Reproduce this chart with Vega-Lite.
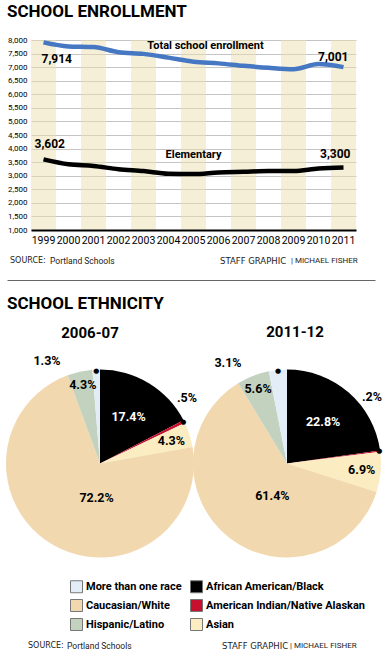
{
  "$schema": "https://vega.github.io/schema/vega-lite/v6.json",
  "padding": {"left": 0, "top": 3, "right": 0, "bottom": 0},
  "background": "white",
  "bounds": "flush",
  "spacing": 0,
  "config": {
    "view": {"stroke": null},
    "font": "Roboto, sans-serif",
    "title": {"color": "#000", "fontWeight": "bold", "font": "Roboto, sans-serif"},
    "axis": {"labelColor": "#000", "titleColor": "#000", "labelFont": "Roboto, sans-serif"},
    "legend": {"labelFont": "Roboto, sans-serif"}
  },
  "datasets": {
    "enroll": [
      {"series": "Total school enrollment", "year": "1999", "value": 7914},
      {"series": "Total school enrollment", "year": "2000", "value": 7764},
      {"series": "Total school enrollment", "year": "2001", "value": 7739},
      {"series": "Total school enrollment", "year": "2002", "value": 7551},
      {"series": "Total school enrollment", "year": "2003", "value": 7489},
      {"series": "Total school enrollment", "year": "2004", "value": 7351},
      {"series": "Total school enrollment", "year": "2005", "value": 7201},
      {"series": "Total school enrollment", "year": "2006", "value": 7139},
      {"series": "Total school enrollment", "year": "2007", "value": 7051},
      {"series": "Total school enrollment", "year": "2008", "value": 6976},
      {"series": "Total school enrollment", "year": "2009", "value": 6926},
      {"series": "Total school enrollment", "year": "2010", "value": 7114},
      {"series": "Total school enrollment", "year": "2011", "value": 7001},
      {"series": "Elementary", "year": "1999", "value": 3602},
      {"series": "Elementary", "year": "2000", "value": 3422},
      {"series": "Elementary", "year": "2001", "value": 3360},
      {"series": "Elementary", "year": "2002", "value": 3240},
      {"series": "Elementary", "year": "2003", "value": 3170},
      {"series": "Elementary", "year": "2004", "value": 3072},
      {"series": "Elementary", "year": "2005", "value": 3060},
      {"series": "Elementary", "year": "2006", "value": 3120},
      {"series": "Elementary", "year": "2007", "value": 3145},
      {"series": "Elementary", "year": "2008", "value": 3170},
      {"series": "Elementary", "year": "2009", "value": 3170},
      {"series": "Elementary", "year": "2010", "value": 3265},
      {"series": "Elementary", "year": "2011", "value": 3300}
    ],
    "bands": [
      {"year": "1999"}, {"year": "2001"}, {"year": "2003"}, {"year": "2005"},
      {"year": "2007"}, {"year": "2009"}, {"year": "2011"}
    ],
    "eth": [
      {"period": "2006-07", "group": "African American/Black", "pct": 17.4, "label": "17.4%"},
      {"period": "2006-07", "group": "American Indian/Native Alaskan", "pct": 0.5, "label": ".5%"},
      {"period": "2006-07", "group": "Asian", "pct": 4.3, "label": "4.3%"},
      {"period": "2006-07", "group": "Caucasian/White", "pct": 72.2, "label": "72.2%"},
      {"period": "2006-07", "group": "Hispanic/Latino", "pct": 4.3, "label": "4.3%"},
      {"period": "2006-07", "group": "More than one race", "pct": 1.3, "label": "1.3%"},
      {"period": "2011-12", "group": "African American/Black", "pct": 22.8, "label": "22.8%"},
      {"period": "2011-12", "group": "American Indian/Native Alaskan", "pct": 0.2, "label": ".2%"},
      {"period": "2011-12", "group": "Asian", "pct": 6.9, "label": "6.9%"},
      {"period": "2011-12", "group": "Caucasian/White", "pct": 61.4, "label": "61.4%"},
      {"period": "2011-12", "group": "Hispanic/Latino", "pct": 5.6, "label": "5.6%"},
      {"period": "2011-12", "group": "More than one race", "pct": 3.1, "label": "3.1%"}
    ],
    "foot": [
      {"side": "left", "part": "a", "label": "SOURCE:"},
      {"side": "left", "part": "b", "label": "Portland Schools"},
      {"side": "left", "part": "c", "label": "STAFF GRAPHIC"},
      {"side": "left", "part": "d", "label": "| MICHAEL FISHER"}
    ]
  },
  "vconcat": [
    {
      "width": 390,
      "height": 190,
      "title": {"text": "SCHOOL ENROLLMENT", "anchor": "start", "frame": "group", "dx": 7, "fontSize": 17, "offset": 12},
      "encoding": {
        "x": {
          "field": "year", "type": "ordinal",
          "scale": {"domain": ["1999","2000","2001","2002","2003","2004","2005","2006","2007","2008","2009","2010","2011"], "range": [31, 356], "paddingInner": 0, "paddingOuter": 0},
          "axis": {"title": null, "labelAngle": 0, "labelFontSize": 10.5, "labelPadding": 5, "ticks": false, "domainColor": "#000", "domainWidth": 2, "grid": false, "labelOverlap": false}
        }
      },
      "layer": [
        {"data": {"name": "bands"}, "mark": {"type": "rect", "color": "#ecdfb0", "opacity": 0.5}},
        {
          "data": {"name": "enroll"},
          "transform": [{"filter": "datum.series === 'Total school enrollment'"}],
          "mark": {"type": "line", "color": "#4677c2", "strokeWidth": 4.5, "interpolate": "monotone"},
          "encoding": {
            "y": {
              "field": "value", "type": "quantitative",
              "scale": {"domain": [1000, 8000], "nice": false, "zero": false},
              "axis": {"title": null, "offset": -31, "values": [1000,1500,2000,2500,3000,3500,4000,4500,5000,5500,6000,6500,7000,7500,8000], "tickCount": 20, "format": ",.0f", "grid": true, "gridColor": "#c4c4c4", "domain": false, "ticks": false, "labelFontSize": 8, "labelPadding": 4, "labelOverlap": false}
            }
          }
        },
        {
          "data": {"name": "enroll"},
          "transform": [{"filter": "datum.series === 'Elementary'"}],
          "mark": {"type": "line", "color": "#000", "strokeWidth": 4.5, "interpolate": "monotone"},
          "encoding": {"y": {"field": "value", "type": "quantitative"}}
        },
        {
          "data": {"name": "enroll"},
          "transform": [{"filter": "datum.series === 'Total school enrollment' && datum.year === '1999'"}],
          "mark": {"type": "text", "align": "left", "dx": -2, "dy": 17, "fontSize": 12, "fontWeight": "bold"},
          "encoding": {"y": {"field": "value", "type": "quantitative"}, "text": {"field": "value", "type": "quantitative", "format": ","}}
        },
        {
          "data": {"name": "enroll"},
          "transform": [{"filter": "datum.series === 'Total school enrollment' && datum.year === '2011'"}],
          "mark": {"type": "text", "align": "right", "dx": 5, "dy": -10, "fontSize": 12, "fontWeight": "bold"},
          "encoding": {"y": {"field": "value", "type": "quantitative"}, "text": {"field": "value", "type": "quantitative", "format": ","}}
        },
        {
          "data": {"name": "enroll"},
          "transform": [{"filter": "datum.series === 'Elementary' && datum.year === '1999'"}],
          "mark": {"type": "text", "align": "left", "dx": -9, "dy": -15, "fontSize": 12, "fontWeight": "bold"},
          "encoding": {"y": {"field": "value", "type": "quantitative"}, "text": {"field": "value", "type": "quantitative", "format": ","}}
        },
        {
          "data": {"name": "enroll"},
          "transform": [{"filter": "datum.series === 'Elementary' && datum.year === '2011'"}],
          "mark": {"type": "text", "align": "right", "dx": 7, "dy": -14, "fontSize": 12, "fontWeight": "bold"},
          "encoding": {"y": {"field": "value", "type": "quantitative"}, "text": {"field": "value", "type": "quantitative", "format": ","}}
        },
        {
          "data": {"name": "enroll"},
          "transform": [{"filter": "datum.year === '2005' && datum.series === 'Total school enrollment'"}],
          "mark": {"type": "text", "align": "center", "dx": 12, "dy": -16, "fontSize": 11, "fontWeight": "bold"},
          "encoding": {"y": {"field": "value", "type": "quantitative"}, "text": {"field": "series", "type": "nominal"}}
        },
        {
          "data": {"name": "enroll"},
          "transform": [{"filter": "datum.year === '2005' && datum.series === 'Elementary'"}],
          "mark": {"type": "text", "align": "center", "dx": 0, "dy": -19, "fontSize": 11, "fontWeight": "bold"},
          "encoding": {"y": {"field": "value", "type": "quantitative"}, "text": {"field": "series", "type": "nominal"}}
        }
      ]
    },
    {
      "width": 390,
      "height": 138,
      "data": {"name": "foot"},
      "encoding": {
        "x": {"field": "side", "type": "nominal", "scale": {"domain": ["left", "right"], "range": [7, 375], "padding": 0},
          "axis": {"orient": "bottom", "offset": -88, "title": null, "labels": false, "ticks": false, "grid": false, "domainColor": "#666", "domainWidth": 1}}
      },
      "layer": [
        {"transform": [{"filter": "datum.part === 'a'"}], "mark": {"type": "text", "align": "left", "dx": 3, "dy": -38, "font": "DejaVu Sans", "fontSize": 8, "color": "#222"}, "encoding": {"text": {"field": "label"}}},
        {"transform": [{"filter": "datum.part === 'b'"}], "mark": {"type": "text", "align": "left", "dx": 43, "dy": -38, "fontSize": 8.5, "color": "#222"}, "encoding": {"text": {"field": "label"}}},
        {"transform": [{"filter": "datum.part === 'c'"}], "mark": {"type": "text", "align": "left", "dx": 213, "dy": -38, "font": "DejaVu Sans", "fontSize": 8.5, "color": "#222"}, "encoding": {"text": {"field": "label"}}},
        {"transform": [{"filter": "datum.part === 'd'"}], "mark": {"type": "text", "align": "left", "dx": 284, "dy": -38, "fontSize": 8, "color": "#222"}, "encoding": {"text": {"field": "label"}}}
      ]
    },
    {
      "title": {"text": "SCHOOL ETHNICITY", "anchor": "start", "frame": "group", "dx": 7, "fontSize": 17, "offset": 12},
      "bounds": "flush",
      "spacing": 0,
      "hconcat": [
        {
          "width": 200,
          "height": 191,
          "title": {"text": "2006-07", "anchor": "middle", "dx": -10, "fontSize": 15, "offset": 14},
          "data": {"name": "eth"},
          "transform": [{"filter": "datum.period === '2006-07'"}],
          "layer": [
            {
              "mark": {"type": "arc", "outerRadius": 94},
              "encoding": {
                "theta": {"field": "pct", "type": "quantitative", "stack": true},
                "order": {"field": "group", "type": "ordinal", "sort": "ascending"},
                "color": {
                  "field": "group", "type": "nominal",
                  "scale": {"domain": ["More than one race", "Caucasian/White", "Hispanic/Latino", "African American/Black", "American Indian/Native Alaskan", "Asian"],
                            "range": ["#e2edf8", "#f2d8ae", "#c2d2bf", "#000000", "#c8102e", "#fbecc2"]},
                  "legend": {"orient": "none", "legendX": 70, "legendY": 540, "columns": 2, "title": null, "symbolType": "square", "symbolSize": 144, "symbolStrokeColor": "#777", "symbolStrokeWidth": 1, "labelFontSize": 11, "labelFontWeight": "bold", "labelColor": "#000", "labelLimit": 300, "rowPadding": 2, "columnPadding": 6, "labelOffset": 3}
                }
              }
            },
            {
              "mark": {"type": "text", "radius": 55, "fontSize": 12.5, "fontWeight": "bold", "color": "#fff"},
              "encoding": {"theta": {"field": "pct", "type": "quantitative", "stack": true}, "order": {"field": "group", "type": "ordinal", "sort": "ascending"},
                "text": {"condition": {"test": "datum.group === 'African American/Black'", "field": "label"}, "value": ""}}
            },
            {
              "mark": {"type": "text", "radius": 75, "fontSize": 12.5, "fontWeight": "bold", "color": "#000"},
              "encoding": {"theta": {"field": "pct", "type": "quantitative", "stack": true}, "order": {"field": "group", "type": "ordinal", "sort": "ascending"},
                "text": {"condition": {"test": "datum.group === 'Asian'", "field": "label"}, "value": ""}}
            },
            {
              "mark": {"type": "text", "radius": 35, "dx": 14, "dy": 4, "fontSize": 12.5, "fontWeight": "bold", "color": "#000"},
              "encoding": {"theta": {"field": "pct", "type": "quantitative", "stack": true}, "order": {"field": "group", "type": "ordinal", "sort": "ascending"},
                "text": {"condition": {"test": "datum.group === 'Caucasian/White'", "field": "label"}, "value": ""}}
            },
            {
              "mark": {"type": "text", "radius": 80, "fontSize": 12.5, "fontWeight": "bold", "color": "#000"},
              "encoding": {"theta": {"field": "pct", "type": "quantitative", "stack": true}, "order": {"field": "group", "type": "ordinal", "sort": "ascending"},
                "text": {"condition": {"test": "datum.group === 'Hispanic/Latino'", "field": "label"}, "value": ""}}
            },
            {
              "mark": {"type": "text", "radius": 93, "fontSize": 7, "font": "DejaVu Sans", "color": "#000"},
              "encoding": {"theta": {"field": "pct", "type": "quantitative", "stack": true}, "order": {"field": "group", "type": "ordinal", "sort": "ascending"},
                "text": {"condition": {"test": "datum.group === 'More than one race' || datum.group === 'American Indian/Native Alaskan'", "value": "●"}, "value": ""}}
            },
            {
              "transform": [{"filter": "datum.group === 'More than one race'"}],
              "mark": {"type": "text", "dx": -53, "dy": -103, "fontSize": 12.5, "fontWeight": "bold", "color": "#000"},
              "encoding": {"text": {"field": "label"}}
            },
            {
              "transform": [{"filter": "datum.group === 'American Indian/Native Alaskan'"}],
              "mark": {"type": "text", "dx": 87, "dy": -66, "fontSize": 12.5, "fontWeight": "bold", "color": "#000"},
              "encoding": {"text": {"field": "label"}}
            }
          ]
        },
        {
          "width": 174,
          "height": 191,
          "title": {"text": "2011-12", "anchor": "middle", "dx": 8, "fontSize": 15, "offset": 17},
          "data": {"name": "eth"},
          "transform": [{"filter": "datum.period === '2011-12'"}],
          "layer": [
            {
              "mark": {"type": "arc", "outerRadius": 94},
              "encoding": {
                "theta": {"field": "pct", "type": "quantitative", "stack": true},
                "order": {"field": "group", "type": "ordinal", "sort": "ascending"},
                "color": {
                  "field": "group", "type": "nominal",
                  "scale": {"domain": ["More than one race", "Caucasian/White", "Hispanic/Latino", "African American/Black", "American Indian/Native Alaskan", "Asian"],
                            "range": ["#e2edf8", "#f2d8ae", "#c2d2bf", "#000000", "#c8102e", "#fbecc2"]},
                  "legend": {"orient": "none", "legendX": 70, "legendY": 540, "columns": 2, "title": null, "symbolType": "square", "symbolSize": 144, "symbolStrokeColor": "#777", "symbolStrokeWidth": 1, "labelFontSize": 11, "labelFontWeight": "bold", "labelColor": "#000", "labelLimit": 300, "rowPadding": 2, "columnPadding": 6, "labelOffset": 3}
                }
              }
            },
            {
              "mark": {"type": "text", "radius": 55, "fontSize": 12.5, "fontWeight": "bold", "color": "#fff"},
              "encoding": {"theta": {"field": "pct", "type": "quantitative", "stack": true}, "order": {"field": "group", "type": "ordinal", "sort": "ascending"},
                "text": {"condition": {"test": "datum.group === 'African American/Black'", "field": "label"}, "value": ""}}
            },
            {
              "mark": {"type": "text", "radius": 75, "fontSize": 12.5, "fontWeight": "bold", "color": "#000"},
              "encoding": {"theta": {"field": "pct", "type": "quantitative", "stack": true}, "order": {"field": "group", "type": "ordinal", "sort": "ascending"},
                "text": {"condition": {"test": "datum.group === 'Asian'", "field": "label"}, "value": ""}}
            },
            {
              "mark": {"type": "text", "radius": 35, "dx": 7, "dy": 5, "fontSize": 12.5, "fontWeight": "bold", "color": "#000"},
              "encoding": {"theta": {"field": "pct", "type": "quantitative", "stack": true}, "order": {"field": "group", "type": "ordinal", "sort": "ascending"},
                "text": {"condition": {"test": "datum.group === 'Caucasian/White'", "field": "label"}, "value": ""}}
            },
            {
              "mark": {"type": "text", "radius": 80, "fontSize": 12.5, "fontWeight": "bold", "color": "#000"},
              "encoding": {"theta": {"field": "pct", "type": "quantitative", "stack": true}, "order": {"field": "group", "type": "ordinal", "sort": "ascending"},
                "text": {"condition": {"test": "datum.group === 'Hispanic/Latino'", "field": "label"}, "value": ""}}
            },
            {
              "mark": {"type": "text", "radius": 93, "fontSize": 7, "font": "DejaVu Sans", "color": "#000"},
              "encoding": {"theta": {"field": "pct", "type": "quantitative", "stack": true}, "order": {"field": "group", "type": "ordinal", "sort": "ascending"},
                "text": {"condition": {"test": "datum.group === 'More than one race' || datum.group === 'American Indian/Native Alaskan'", "value": "●"}, "value": ""}}
            },
            {
              "transform": [{"filter": "datum.group === 'More than one race'"}],
              "mark": {"type": "text", "dx": -59, "dy": -101, "fontSize": 12.5, "fontWeight": "bold", "color": "#000"},
              "encoding": {"text": {"field": "label"}}
            },
            {
              "transform": [{"filter": "datum.group === 'American Indian/Native Alaskan'"}],
              "mark": {"type": "text", "dx": 85, "dy": -67, "fontSize": 12.5, "fontWeight": "bold", "color": "#000"},
              "encoding": {"text": {"field": "label"}}
            }
          ]
        }
      ]
    },
    {
      "width": 390,
      "height": 100,
      "data": {"name": "foot"},
      "encoding": {
        "x": {"field": "side", "type": "nominal", "scale": {"domain": ["left", "right"], "range": [7, 375], "padding": 0}, "axis": null}
      },
      "layer": [
        {"transform": [{"filter": "datum.part === 'a'"}], "mark": {"type": "text", "align": "left", "dx": 21, "dy": 228, "font": "DejaVu Sans", "fontSize": 8, "color": "#222"}, "encoding": {"text": {"field": "label"}}},
        {"transform": [{"filter": "datum.part === 'b'"}], "mark": {"type": "text", "align": "left", "dx": 60, "dy": 228, "fontSize": 8.5, "color": "#222"}, "encoding": {"text": {"field": "label"}}},
        {"transform": [{"filter": "datum.part === 'c'"}], "mark": {"type": "text", "align": "left", "dx": 215, "dy": 228, "font": "DejaVu Sans", "fontSize": 8.5, "color": "#222"}, "encoding": {"text": {"field": "label"}}},
        {"transform": [{"filter": "datum.part === 'd'"}], "mark": {"type": "text", "align": "left", "dx": 283, "dy": 228, "fontSize": 8, "color": "#222"}, "encoding": {"text": {"field": "label"}}}
      ]
    }
  ]
}
